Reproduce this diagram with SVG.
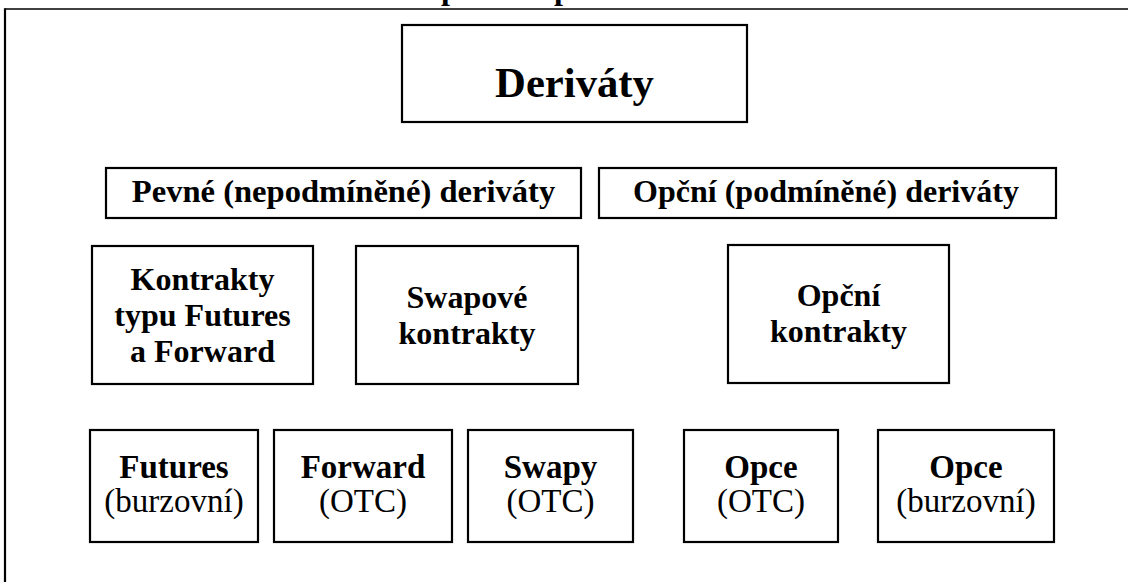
<svg xmlns="http://www.w3.org/2000/svg" width="1128" height="582" viewBox="0 0 1128 582">
<style>
.box{fill:#fff;stroke:#000;stroke-width:2.2}
.b{font-family:"Liberation Serif","Times New Roman",serif;font-weight:bold;text-anchor:middle;fill:#000}
.r{font-family:"Liberation Serif","Times New Roman",serif;text-anchor:middle;fill:#000}
.frame{fill:none;stroke:#000}
.m{font-size:32px}
.s{font-size:33px}
</style>
<rect width="1128" height="582" fill="#fff"/>
<g id="frame">
<line class="frame" x1="5" y1="9" x2="1128" y2="9" stroke-width="1.5"/>
<line class="frame" x1="5" y1="8.3" x2="5" y2="582" stroke-width="2.2"/>
<text class="b" x="450" y="-1" font-size="32">p</text>
<text class="b" x="563" y="-1" font-size="32">p</text>
</g>
<g id="connectors"></g>
<g id="derivaty">
<rect class="box" x="402" y="25" width="345" height="97"/>
<text class="b" x="574.5" y="97" font-size="42.7">Deriváty</text>
</g>
<g id="pevne">
<rect class="box" x="106" y="168" width="475" height="50"/>
<text class="b" x="343.5" y="202" font-size="32.6">Pevné (nepodmíněné) deriváty</text>
</g>
<g id="opcni">
<rect class="box" x="599" y="168" width="457" height="50"/>
<text class="b" x="826" y="202" font-size="32">Opční (podmíněné) deriváty</text>
</g>
<g id="kontrakty-ff">
<rect class="box" x="92" y="246" width="221" height="138"/>
<text class="b m" x="202.5" y="290">Kontrakty</text>
<text class="b m" x="202.5" y="326">typu Futures</text>
<text class="b m" x="202.5" y="362">a Forward</text>
</g>
<g id="swapove">
<rect class="box" x="356" y="246" width="222" height="138"/>
<text class="b m" x="467" y="308">Swapové</text>
<text class="b m" x="467" y="344">kontrakty</text>
</g>
<g id="opcni-kontrakty">
<rect class="box" x="728" y="245" width="221" height="138"/>
<text class="b m" x="838.5" y="306">Opční</text>
<text class="b m" x="838.5" y="342">kontrakty</text>
</g>
<g id="futures">
<rect class="box" x="90" y="430" width="168" height="112"/>
<text class="b s" x="174" y="478">Futures</text>
<text class="r s" x="174" y="512">(burzovní)</text>
</g>
<g id="forward">
<rect class="box" x="274" y="430" width="178" height="112"/>
<text class="b s" x="363" y="478">Forward</text>
<text class="r s" x="363" y="512">(OTC)</text>
</g>
<g id="swapy">
<rect class="box" x="468" y="430" width="165" height="112"/>
<text class="b s" x="550.5" y="478">Swapy</text>
<text class="r s" x="550.5" y="512">(OTC)</text>
</g>
<g id="opce-otc">
<rect class="box" x="684" y="430" width="154" height="112"/>
<text class="b s" x="761" y="478">Opce</text>
<text class="r s" x="761" y="512">(OTC)</text>
</g>
<g id="opce-burzovni">
<rect class="box" x="878" y="430" width="176" height="112"/>
<text class="b s" x="966" y="478">Opce</text>
<text class="r s" x="966" y="512">(burzovní)</text>
</g>
</svg>
